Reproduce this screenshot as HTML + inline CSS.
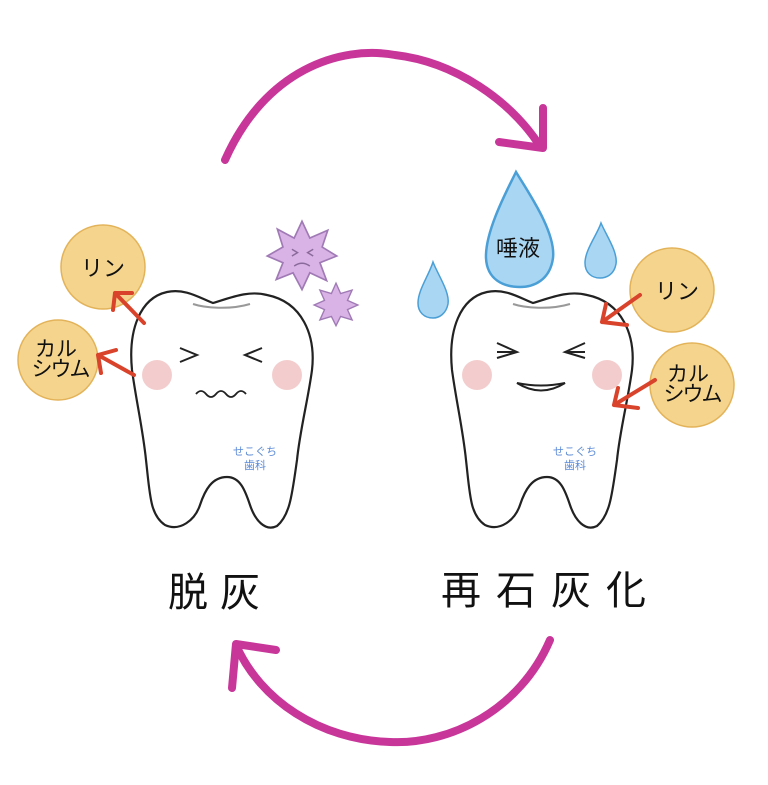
<!DOCTYPE html>
<html><head><meta charset="utf-8"><style>
body{margin:0;background:#fff;width:768px;height:785px;overflow:hidden}
svg{display:block}
text{font-family:"Liberation Sans","Noto Sans CJK JP",sans-serif}
</style></head><body>
<svg width="768" height="785" viewBox="0 0 768 785" xmlns="http://www.w3.org/2000/svg">
<defs>
<g id="tooth">
<path d="M167,292 C185,288 200,298 213,303 C230,298 248,290 267,295 C302,302 316,335 312,370 C308,400 300,430 297,460 C292,495 290,515 277,526 C265,532 255,520 250,505 C245,490 240,477 227,477 C212,477 205,490 200,505 C195,520 180,532 165,525 C150,515 150,495 146,460 C143,430 136,400 132,370 C128,330 140,298 167,292 Z" fill="#fff" stroke="#222" stroke-width="2.2"/>
<path d="M193,304 C205,308 230,310 250,304" fill="none" stroke="#999" stroke-width="2"/>
<circle cx="157" cy="375" r="15" fill="#f2c8c8" opacity="0.9"/>
<circle cx="287" cy="375" r="15" fill="#f2c8c8" opacity="0.9"/>
<text x="255" y="455" font-size="11" fill="#5a8ad6" text-anchor="middle">せこぐち</text>
<text x="255" y="469" font-size="11" fill="#5a8ad6" text-anchor="middle">歯科</text>
</g>
</defs>

<path d="M225,160 C265,70 340,45 395,55 C455,62 510,100 540,146" fill="none" stroke="#c8369a" stroke-width="8" stroke-linecap="round"/>
<path d="M543,108 L543,148 L499,142" fill="none" stroke="#c8369a" stroke-width="8" stroke-linecap="round" stroke-linejoin="round"/>
<path d="M550,640 C520,710 450,745 390,742 C320,740 260,700 236,645" fill="none" stroke="#c8369a" stroke-width="8" stroke-linecap="round"/>
<path d="M232,688 L236,644 L276,650" fill="none" stroke="#c8369a" stroke-width="8" stroke-linecap="round" stroke-linejoin="round"/>

<use href="#tooth"/>
<path d="M180,348 L197,355 L180,362" fill="none" stroke="#222" stroke-width="2"/>
<path d="M262,348 L245,355 L262,362" fill="none" stroke="#222" stroke-width="2"/>
<path d="M196,394 q5,-6 10,0 q5,6 10,0 q5,-6 10,0 q5,6 10,0 q5,-6 10,0" fill="none" stroke="#222" stroke-width="1.8"/>

<g transform="translate(302,256) scale(1.12) translate(-302,-256)">
<polygon points="302,225 309,240 325,233 320,248 333,256 318,262 324,278 309,271 302,286 294,271 279,277 285,262 271,256 285,248 280,232 295,240" fill="#d9b3e6" stroke="#a07ab5" stroke-width="1.5"/>
<path d="M293,250 l5,3 l-5,3 M312,250 l-5,3 l5,3 M295,265 q7,-5 14,0" fill="none" stroke="#8a6a9a" stroke-width="1.3"/>
</g>
<g transform="translate(336,305) scale(1.15) translate(-336,-305)">
<polygon points="336,286 340,295 350,292 346,301 355,305 346,309 350,318 340,315 336,323 332,315 322,318 326,309 317,305 326,301 322,292 332,295" fill="#d9b3e6" stroke="#a07ab5" stroke-width="1.2"/>
</g>

<circle cx="103" cy="267" r="42" fill="#f5d58d" stroke="#e3b35a" stroke-width="1.5"/>
<text x="103" y="276" font-size="22" text-anchor="middle" fill="#111">リン</text>
<circle cx="58" cy="360" r="40" fill="#f5d58d" stroke="#e3b35a" stroke-width="1.5"/>
<text x="56" y="356" font-size="21" text-anchor="middle" fill="#111">カル</text>
<text x="60" y="376" font-size="21" text-anchor="middle" fill="#111" letter-spacing="-2">シウム</text>
<g stroke="#d9432b" stroke-width="4" fill="none" stroke-linecap="round" stroke-linejoin="round">
<path d="M144,323 L115,293 M115,293 L113,310 M115,293 L132,293"/>
<path d="M134,375 L98,355 M98,355 L101,373 M98,355 L116,350"/>
</g>

<use href="#tooth" transform="translate(320,0)"/>
<path d="M497,343 L517,352 L497,358" fill="none" stroke="#222" stroke-width="2"/>
<path d="M497,352 L517,352" stroke="#222" stroke-width="2"/>
<path d="M585,343 L565,352 L585,358" fill="none" stroke="#222" stroke-width="2"/>
<path d="M565,352 L585,352" stroke="#222" stroke-width="2"/>
<path d="M517,383 Q541,398 565,383 Q541,388 517,383 Z" fill="#fff" stroke="#222" stroke-width="2"/>

<path d="M516,172 C528,192 556,232 553,258 C550,280 534,287 520,287 C504,287 487,280 486,258 C485,232 506,192 516,172 Z" fill="#a9d6f3" stroke="#4a9fd6" stroke-width="2.5"/>
<text x="518" y="256" font-size="22" text-anchor="middle" fill="#111">唾液</text>
<path d="M601,223 C606,235 618,252 616,264 C614,275 606,278 600,278 C592,278 585,273 585,263 C585,250 597,235 601,223 Z" fill="#a9d6f3" stroke="#4a9fd6" stroke-width="1.5"/>
<path d="M433,262 C438,275 450,292 448,304 C446,314 439,318 433,318 C424,318 418,312 418,303 C418,290 429,275 433,262 Z" fill="#a9d6f3" stroke="#4a9fd6" stroke-width="1.5"/>

<circle cx="672" cy="290" r="42" fill="#f5d58d" stroke="#e3b35a" stroke-width="1.5"/>
<text x="677" y="299" font-size="22" text-anchor="middle" fill="#111">リン</text>
<circle cx="692" cy="385" r="42" fill="#f5d58d" stroke="#e3b35a" stroke-width="1.5"/>
<text x="688" y="381" font-size="21" text-anchor="middle" fill="#111">カル</text>
<text x="692" y="401" font-size="21" text-anchor="middle" fill="#111" letter-spacing="-2">シウム</text>
<g stroke="#d9432b" stroke-width="4" fill="none" stroke-linecap="round" stroke-linejoin="round">
<path d="M640,295 L602,322 M602,322 L606,304 M602,322 L627,325"/>
<path d="M655,380 L614,405 M614,405 L618,388 M614,405 L638,408"/>
</g>

<text x="220" y="606" font-size="40" text-anchor="middle" fill="#111" letter-spacing="12">脱灰</text>
<text x="551" y="604" font-size="40" text-anchor="middle" fill="#111" letter-spacing="15">再石灰化</text>
</svg>
</body></html>
